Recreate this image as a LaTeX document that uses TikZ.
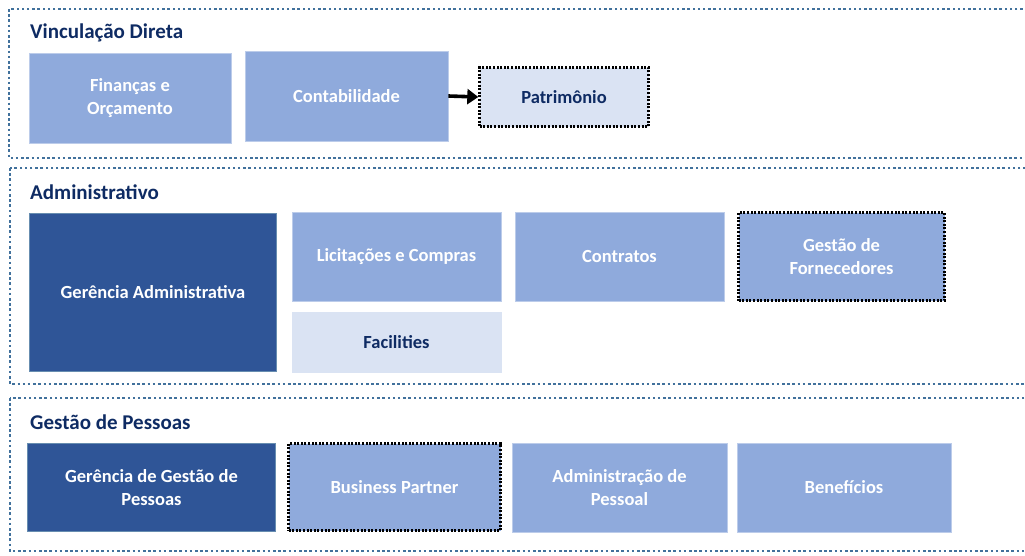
\documentclass[tikz,border=0pt]{standalone}
\usepackage{fontspec}
\setmainfont{Carlito}
\usetikzlibrary{arrows.meta}
\definecolor{boxmid}{HTML}{8FAADC}
\definecolor{boxdark}{HTML}{2F5597}
\definecolor{boxlight}{HTML}{DAE3F3}
\definecolor{navytext}{HTML}{0E2B63}
\definecolor{frameblue}{HTML}{41719C}
\tikzset{
  section/.style={draw=frameblue, line width=2pt, dash pattern=on 2.5pt off 2.7pt},
  sectitle/.style={anchor=west, text=navytext, font=\bfseries\fontsize{21}{24}\selectfont, inner sep=0pt},
  unit/.style={fill=boxmid, draw=boxlight!60!boxmid, line width=0.8pt, text=white, align=center,
    font=\bfseries\fontsize{18.5}{23}\selectfont, inner sep=0pt},
  unitdark/.style={unit, fill=boxdark, draw=frameblue!80!white, line width=1.5pt},
  unitlight/.style={unit, fill=boxlight, draw=boxlight, text=navytext},
  planned/.style={draw=black, line width=2.4pt, dash pattern=on 2pt off 1.6pt}
}
\begin{document}
\begin{tikzpicture}[x=1pt, y=-1pt]
    \useasboundingbox (0,0) rectangle (1025,555);
    \clip (0,0) rectangle (1025,555);

    % Vinculacao Direta
    \draw[section] (9,9) rectangle (1035,158);
    \node[sectitle] (vdTitle) at (30,33) {Vinculação Direta};
    \node[unit, minimum width=202pt, minimum height=90pt] (fin) at (130,98) {Finanças e\\Orçamento};
    \node[unit, minimum width=203pt, minimum height=90pt] (cont) at (346.5,96) {Contabilidade};
    \node[unitlight, planned, minimum width=169pt, minimum height=59pt] (patr) at (564,97) {Patrimônio};

    % Administrativo
    \draw[section] (10,168) rectangle (1035,384);
    \node[sectitle] (admTitle) at (30,192) {Administrativo};
    \node[unitdark, minimum width=247pt, minimum height=158pt] (gerAdm) at (153,292.5) {Gerência Administrativa};
    \node[unit, minimum width=209pt, minimum height=89pt] (lic) at (396.5,256.5) {Licitações e Compras};
    \node[unit, minimum width=209pt, minimum height=89pt] (contr) at (619.5,256.5) {Contratos};
    \node[unit, planned, minimum width=206pt, minimum height=88pt] (forn) at (841.5,256.5) {Gestão de\\Fornecedores};
    \node[unitlight, minimum width=209pt, minimum height=60pt] (fac) at (396.5,342) {Facilities};

    % Gestao de Pessoas
    \draw[section] (10,398) rectangle (1035,551);
    \node[sectitle] (gpTitle) at (30,422) {Gestão de Pessoas};
    \node[unitdark, minimum width=248pt, minimum height=88pt] (gerGP) at (151.5,487.5) {Gerência de Gestão de\\Pessoas};
    \node[unit, planned, minimum width=212pt, minimum height=87pt] (bp) at (394.5,487) {Business Partner};
    \node[unit, minimum width=215pt, minimum height=89pt] (admP) at (619.5,487.5) {Administração de\\Pessoal};
    \node[unit, minimum width=214pt, minimum height=89pt] (ben) at (844,487.5) {Benefícios};

    % Arrows
    \draw[-{Triangle[length=11pt, width=15pt]}, line width=3.6pt] (cont.east) -- (patr.west);
\end{tikzpicture}
\end{document}
